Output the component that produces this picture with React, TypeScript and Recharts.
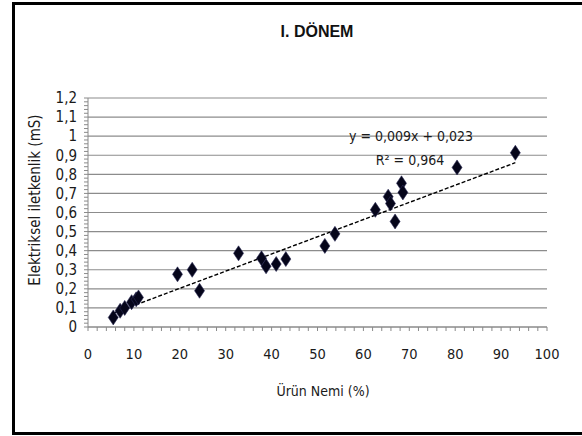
import React from 'react';
import { ScatterChart, Scatter, XAxis, YAxis, ReferenceLine } from 'recharts';

// Ürün nemi (%) ve elektriksel iletkenlik (mS) ölçümleri
const nemValues = [5.5, 7, 8, 9.5, 10.5, 11, 19.5, 22.7, 24.3, 32.8, 37.8, 38.8, 41, 43.1, 51.6, 53.8, 62.6, 65.4, 65.9, 66.9, 68.3, 68.6, 80.4, 93.1];
const iletkenlikValues = [0.05, 0.085, 0.1, 0.13, 0.145, 0.155, 0.276, 0.3, 0.19, 0.386, 0.36, 0.318, 0.33, 0.356, 0.425, 0.488, 0.614, 0.683, 0.647, 0.553, 0.753, 0.705, 0.836, 0.913];

// trend çizgisi uçları (y = 0,009x + 0,023)
const trendX = [5.5, 93.1];
const trendY = [0.072, 0.861];

const xMajorTicks = [0, 10, 20, 30, 40, 50, 60, 70, 80, 90, 100];
const yMajorTicks = [0, 0.1, 0.2, 0.3, 0.4, 0.5, 0.6, 0.7, 0.8, 0.9, 1, 1.1, 1.2];

const xMinorTicks = Array.from({ length: 51 }, (_, i) => i * 2);
const yMinorTicks = Array.from({ length: 61 }, (_, i) => Math.round(i * 2) / 100);

const points = nemValues.map((x, i) => ({ x, y: iletkenlikValues[i] }));
const trend = trendX.map((x, i) => ({ x, y: trendY[i] }));

const FONT = '"DejaVu Sans Condensed", "DejaVu Sans", sans-serif';
const TEXT = '#1a1a1a';

const Diamond = (props: any) => {
    const { cx, cy } = props;
    if (cx == null || cy == null) return <g />;
    return (
        <polygon
            points={`${cx},${cy - 7.5} ${cx + 5},${cy} ${cx},${cy + 7.5} ${cx - 5},${cy}`}
            fill="#05051a"
            stroke="#2a2a55"
            strokeWidth={0.6}
        />
    );
};

const XTick = (props: any) => {
    const { x, y, payload } = props;
    if (Math.round(payload.value) % 10 !== 0) return <g />;
    return (
        <text x={x} y={y} dy="0.71em" textAnchor="middle" fontSize={14.5} fontFamily={FONT} fill={TEXT}>
            {payload.value}
        </text>
    );
};

const YTick = (props: any) => {
    const { x, y, payload } = props;
    const v = payload.value;
    if (Math.round(v * 100) % 10 !== 0) return <g />;
    const label = String(Math.round(v * 10) / 10).replace('.', ',');
    return (
        <text x={x} y={y} dy="0.355em" textAnchor="end" fontSize={15} fontFamily={FONT} fill={TEXT}>
            {label}
        </text>
    );
};

export default function App() {
    return (
        <div style={{ position: 'fixed', left: 0, top: 0, width: 582, height: 436, background: '#fff', overflow: 'hidden' }}>
            <div
                style={{
                    position: 'absolute',
                    left: 12,
                    top: 2,
                    width: 620,
                    height: 427,
                    border: '3px solid #000',
                }}
            />
            <div style={{ position: 'absolute', left: 0, top: 0 }}>
                <ScatterChart width={582} height={436} margin={{ top: 98, right: 35, bottom: 79, left: 0 }}>
                    <XAxis
                        type="number"
                        dataKey="x"
                        domain={[0, 100]}
                        ticks={xMinorTicks}
                        interval={0}
                        height={30}
                        tick={<XTick />}
                        tickSize={4}
                        tickMargin={18}
                        axisLine={{ stroke: '#8a8a8a' }}
                        tickLine={{ stroke: '#8a8a8a' }}
                    />
                    <YAxis
                        type="number"
                        dataKey="y"
                        domain={[0, 1.2]}
                        ticks={yMinorTicks}
                        interval={0}
                        width={88}
                        tick={<YTick />}
                        tickSize={4}
                        tickMargin={7}
                        axisLine={{ stroke: '#8a8a8a' }}
                        tickLine={{ stroke: '#8a8a8a' }}
                    />
                    {yMajorTicks.map((v) => (
                        <ReferenceLine key={v} y={v} stroke="#8c8c8c" strokeWidth={1.2} />
                    ))}
                    <Scatter
                        data={trend}
                        line={{ stroke: '#000', strokeWidth: 1.4, strokeDasharray: '4 2' }}
                        shape={() => <g />}
                        isAnimationActive={false}
                    />
                    <Scatter data={points} shape={Diamond} isAnimationActive={false} />
                </ScatterChart>
            </div>
            <svg width={582} height={436} style={{ position: 'absolute', left: 0, top: 0, pointerEvents: 'none' }}>
                <text x={317} y={37} textAnchor="middle" fontSize={16} fontWeight="bold" fontFamily='"Liberation Sans", Arial, sans-serif' fill="#111">
                    I. DÖNEM
                </text>
                <text x={323} y={396} textAnchor="middle" fontSize={14} fontFamily={FONT} fill={TEXT}>
                    Ürün Nemi (%)
                </text>
                <text
                    x={0}
                    y={0}
                    transform="translate(40,200) rotate(-90)"
                    textAnchor="middle"
                    fontSize={15}
                    fontFamily={FONT}
                    fill={TEXT}
                >
                    Elektriksel iletkenlik (mS)
                </text>
                <text x={411} y={141} textAnchor="middle" fontSize={14} fontFamily={FONT} fill={TEXT}>
                    y = 0,009x + 0,023
                </text>
                <text x={410} y={165} textAnchor="middle" fontSize={14} fontFamily={FONT} fill={TEXT}>
                    R² = 0,964
                </text>
            </svg>
        </div>
    );
}
